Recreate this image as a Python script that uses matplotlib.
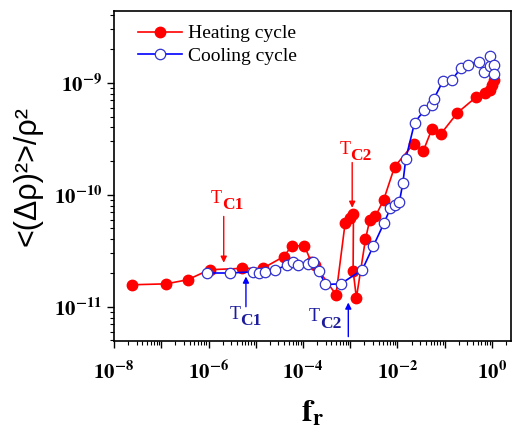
import matplotlib
matplotlib.use('Agg')
import matplotlib.pyplot as plt
from matplotlib.ticker import LogLocator, FuncFormatter, NullFormatter
import numpy as np

plt.rcParams['mathtext.fontset'] = 'stix'
plt.rcParams['font.family'] = ['Liberation Serif', 'DejaVu Serif']

# heating cycle (red, filled)
heat_f = [2.4e-8, 1.26e-7, 3.6e-7, 1.05e-6, 5.2e-6, 1.4e-5, 3.9e-5, 5.8e-5,
          1.07e-4, 1.5e-4, 1.8e-4, 5.0e-4, 7.8e-4, 1.0e-3, 1.17e-3, 1.15e-3,
          1.35e-3, 2.1e-3, 2.6e-3, 3.4e-3, 5.1e-3, 8.7e-3, 0.022, 0.035,
          0.054, 0.083, 0.186, 0.47, 0.72, 0.89, 1.0, 1.1]
heat_v = [1.57e-11, 1.6e-11, 1.74e-11, 2.14e-11, 2.2e-11, 2.2e-11, 2.8e-11, 3.5e-11,
          3.5e-11, 2.5e-11, 2.35e-11, 1.28e-11, 5.6e-11, 6.2e-11, 6.7e-11, 2.1e-11,
          1.2e-11, 4.0e-11, 6.0e-11, 6.4e-11, 9.0e-11, 1.78e-10, 2.85e-10, 2.45e-10,
          3.9e-10, 3.5e-10, 5.4e-10, 7.5e-10, 8.1e-10, 8.7e-10, 9.6e-10, 1.06e-9]

# cooling cycle (blue, open)
cool_f = [9.1e-7, 2.9e-6, 8.7e-6, 1.15e-5, 1.58e-5, 2.6e-5, 4.6e-5, 6.1e-5,
          7.8e-5, 1.3e-4, 1.6e-4, 2.2e-4, 2.95e-4, 6.3e-4, 1.8e-3, 3.1e-3,
          5.2e-3, 7.1e-3, 8.9e-3, 1.1e-2, 1.3e-2, 1.5e-2, 2.3e-2, 3.7e-2,
          5.4e-2, 5.9e-2, 9.1e-2, 0.14, 0.22, 0.31, 0.54, 0.69, 0.89, 0.92,
          1.1, 1.12]
cool_v = [2.0e-11, 2.0e-11, 2.05e-11, 2.0e-11, 2.05e-11, 2.14e-11, 2.35e-11, 2.5e-11,
          2.35e-11, 2.4e-11, 2.5e-11, 2.08e-11, 1.58e-11, 1.6e-11, 2.14e-11, 3.5e-11,
          5.6e-11, 7.6e-11, 8.1e-11, 8.7e-11, 1.27e-10, 2.1e-10, 4.4e-10, 5.7e-10,
          6.3e-10, 7.2e-10, 1.03e-9, 1.06e-9, 1.35e-9, 1.45e-9, 1.55e-9, 1.26e-9,
          1.4e-9, 1.72e-9, 1.45e-9, 1.2e-9]

# tick decades
x_decades = [1e-8, 1e-7, 1e-6, 1e-5, 1e-4, 1e-3, 1e-2, 1e-1, 1e0]
y_decades = [1e-11, 1e-10, 1e-9]

# transition markers: (sub, text x, text y, arrow x, arrow start, arrow end)
red_tc = [('C1', 1.92e-6, 8.5e-11, 2.1e-6, 6.4e-11, 2.47e-11),
          ('C2', 1.0e-3, 2.32e-10, 1.1e-3, 1.94e-10, 7.65e-11)]
blue_tc = [('C1', 4.7e-6, 7.8e-12, 6.2e-6, 1.0e-11, 1.86e-11),
           ('C2', 2.3e-4, 7.4e-12, 9.1e-4, 5.4e-12, 1.09e-11)]


def tc_label(ax, sub, x, y, tcol):
    ax.text(x, y, 'T', color=tcol, fontsize=13, ha='right', va='baseline')
    ax.annotate(sub, xy=(x, y), xytext=(0, -4.5), textcoords='offset points',
                color=tcol, fontsize=12.5, fontweight='bold', ha='left', va='baseline')


def main():
    fig = plt.figure(figsize=(5.12, 4.28), dpi=100)
    ax = fig.add_axes([0.2227, 0.2033, 0.776, 0.7707])

    ax.plot(heat_f, heat_v, '-o', color='#ff0000', lw=1.2, ms=7.5,
            mfc='#ff0000', mec='#ff0000', label='Heating cycle', zorder=3)
    ax.plot(cool_f, cool_v, '-o', color='#0000ff', lw=1.2, ms=7.5,
            mfc='white', mec='#3333cc', mew=0.9, label='Cooling cycle', zorder=4)

    ax.set_xscale('log')
    ax.set_yscale('log')

    ax.set_xticks(x_decades)
    ax.set_yticks(y_decades)
    ax.xaxis.set_minor_locator(LogLocator(base=10, subs=np.arange(2, 10), numticks=20))
    ax.yaxis.set_minor_locator(LogLocator(base=10, subs=np.arange(2, 10), numticks=20))
    ax.xaxis.set_minor_formatter(NullFormatter())
    ax.yaxis.set_minor_formatter(NullFormatter())

    def fmt_x(v, pos):
        e = int(round(np.log10(v)))
        if e % 2:
            return ''
        return r'$\mathbf{10^{%d}}$' % e

    def fmt_y(v, pos):
        e = int(round(np.log10(v)))
        return r'$\mathbf{10^{%d}}$' % e

    ax.xaxis.set_major_formatter(FuncFormatter(fmt_x))
    ax.yaxis.set_major_formatter(FuncFormatter(fmt_y))

    ax.set_xlim(1e-8, 2.57)
    ax.set_ylim(4.94e-12, 4.37e-9)

    ax.tick_params(which='major', direction='out', length=5, width=1, labelsize=15)
    ax.tick_params(which='minor', direction='out', length=3, width=0.8)
    ax.tick_params(axis='x', pad=10)
    for s in ax.spines.values():
        s.set_linewidth(1.2)

    ax.set_xlabel(r'$\mathbf{f_r}$', fontsize=23, labelpad=10)
    ax.set_ylabel('<(Δρ)²>/ρ²', fontsize=22, family='Liberation Sans', labelpad=8)

    for sub, tx, ty, ax_x, y0, y1 in red_tc:
        tc_label(ax, sub, tx, ty, '#ff0000')
        ax.annotate('', xy=(ax_x, y1), xytext=(ax_x, y0),
                    arrowprops=dict(arrowstyle='-|>', color='#ff0000', lw=1,
                                    mutation_scale=9, shrinkA=0, shrinkB=0))
    for sub, tx, ty, ax_x, y0, y1 in blue_tc:
        tc_label(ax, sub, tx, ty, '#1c1c9c')
        ax.annotate('', xy=(ax_x, y1), xytext=(ax_x, y0),
                    arrowprops=dict(arrowstyle='-|>', color='#0000ff', lw=1,
                                    mutation_scale=9, shrinkA=0, shrinkB=0))

    ax.legend(loc='upper left', frameon=False, fontsize=14, handlelength=2.3,
              handletextpad=0.3, borderaxespad=0.3, labelspacing=0.25,
              bbox_to_anchor=(0.025, 1.0))

    fig.savefig('out.png', dpi=100)


if __name__ == "__main__":
    main()
